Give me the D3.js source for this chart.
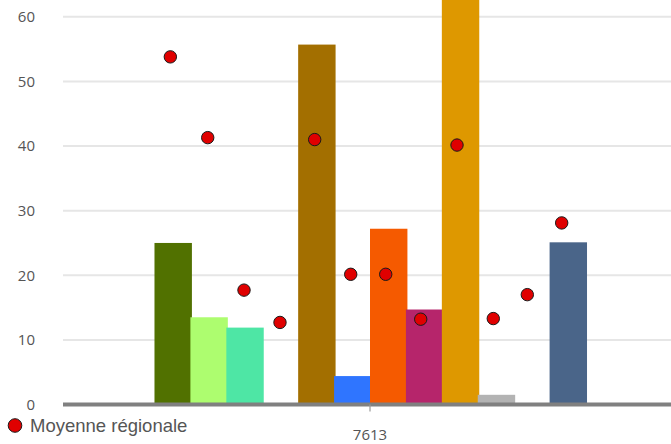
<!DOCTYPE html>
<html><head><meta charset="utf-8">
<script src="https://cdn.jsdelivr.net/npm/d3@7"></script>
<style>html,body{margin:0;padding:0;background:#fff;overflow:hidden}</style>
</head><body>
<svg id="c" width="671" height="444"></svg>
<script>
const categories = ["7613"];
const seriesNames = ["S1","S2","S3","S4","S5","S6","S7","S8","S9","S10","S11","S12"];
const seriesColors = ["#517100","#adfd6f","#4ee6a5","#ffffff","#a36f00","#2f75ff","#f55a00","#b6256b","#de9800","#b3b3b3","#ffffff","#4a6589"];
const barValues = [25.0, 13.5, 11.9, null, 55.7, 4.4, 27.2, 14.7, 75, 1.5, null, 25.1];
// regional average (scatter): x offset within the category (category spans -0.5..0.5), y value
const regionalX = [-0.3252, -0.2643, -0.2052, -0.1466, -0.0901, -0.0314, 0.0256, 0.0826, 0.1417, 0.2008, 0.2562, 0.3122];
const regionalAvg = [53.8, 41.3, 17.7, 12.7, 41.0, 20.15, 20.15, 13.2, 40.15, 13.3, 17.0, 28.1];
const yTicks = [0, 10, 20, 30, 40, 50, 60];
const legendLabel = "Moyenne régionale";

const svg = d3.select("#c");
const W = 671, H = 444;
const plot = {left: 63, right: 677, top: 0, bottom: 404.5};

const x = d3.scaleBand().domain(categories).range([plot.left, plot.right]).padding(0);
const x0 = x(categories[0]), bw = x.bandwidth();
const groupPad = 0.149;
const xs = d3.scaleBand().domain(d3.range(seriesNames.length))
  .range([x0 + bw*groupPad, x0 + bw*(1-groupPad)]).padding(0);
const xd = d3.scaleLinear().domain([-0.5, 0.5]).range([x0, x0 + bw]);
const y = d3.scaleLinear().domain([0, 62.6]).range([plot.bottom, plot.top]);

svg.append("defs").append("clipPath").attr("id","clip")
  .append("rect").attr("x", plot.left).attr("y", plot.top).attr("width", W - plot.left).attr("height", plot.bottom - plot.top);

// grid
svg.append("g").selectAll("line").data(yTicks.filter(d => d > 0)).join("line")
  .attr("x1", plot.left).attr("x2", W).attr("y1", d => y(d)).attr("y2", d => y(d))
  .attr("stroke", "#e6e6e6").attr("stroke-width", 2);

// y labels
svg.append("g").selectAll("text").data(yTicks).join("text")
  .attr("x", 35).attr("y", d => y(d)).attr("dy", "0.35em").attr("text-anchor", "end")
  .attr("font-family", "Open Sans, sans-serif").attr("font-size", 15).attr("fill", "#555")
  .text(d => d);

// bars
svg.append("g").attr("clip-path", "url(#clip)").selectAll("rect")
  .data(barValues.map((v, i) => ({v, i}))).join("rect")
  .filter(d => d.v != null)
  .attr("x", d => xs(d.i)).attr("width", xs.bandwidth() + 1.5)
  .attr("y", d => y(d.v)).attr("height", d => y(0) - y(d.v))
  .attr("fill", d => seriesColors[d.i]);

// x axis line
svg.append("line").attr("x1", plot.left).attr("x2", W).attr("y1", y(0)).attr("y2", y(0))
  .attr("stroke", "#808080").attr("stroke-width", 4);
// tick
const tx = xs(5) + xs.bandwidth();
svg.append("line").attr("x1", tx).attr("x2", tx)
  .attr("y1", y(0)).attr("y2", y(0) + 7).attr("stroke", "#999").attr("stroke-width", 1.2);
svg.append("text").attr("x", tx).attr("y", 440).attr("text-anchor", "middle")
  .attr("font-family", "Open Sans, sans-serif").attr("font-size", 15).attr("fill", "#555")
  .text(categories[0]);

// regional average dots
svg.append("g").selectAll("circle").data(regionalAvg.map((v, i) => ({v, i}))).join("circle")
  .attr("cx", d => xd(regionalX[d.i])).attr("cy", d => y(d.v)).attr("r", 6.2)
  .attr("fill", "#e00000").attr("stroke", "#1a1a1a").attr("stroke-width", 1);

// legend
svg.append("circle").attr("cx", 15).attr("cy", 425.5).attr("r", 6.8)
  .attr("fill", "#e00000").attr("stroke", "#1a1a1a").attr("stroke-width", 1);
svg.append("text").attr("x", 30).attr("y", 432).attr("font-family", "Liberation Sans, Arial, sans-serif")
  .attr("font-size", 18.5).attr("fill", "#555").text(legendLabel);
</script>
</body></html>
